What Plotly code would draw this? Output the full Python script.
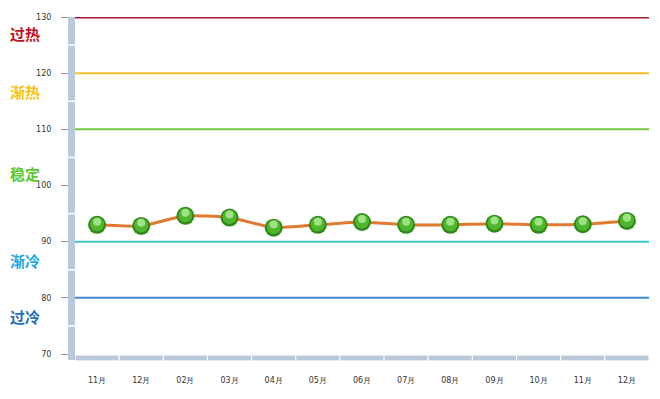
import plotly.graph_objects as go

months = ["11月", "12月", "02月", "03月", "04月", "05月", "06月", "07月", "08月", "09月", "10月", "11月", "12月"]
values = [93.0, 92.8, 94.6, 94.3, 92.5, 93.0, 93.5, 93.0, 93.0, 93.2, 93.0, 93.1, 93.7]

thresholds = [130, 120, 110, 90, 80]
threshold_colors = ["#a8182e", "#f2c230", "#72c840", "#3cc6c6", "#3f88cc"]

zone_labels = ["过热", "渐热", "稳定", "渐冷", "过冷"]
zone_label_y = [127.1, 116.8, 102.1, 86.6, 76.6]
zone_colors = ["#c0101e", "#f5c21a", "#5cc832", "#22a8e0", "#1f6eb8"]

yticks = [70, 80, 90, 100, 110, 120, 130]

W, H = 660, 399
L, R, T, B = 67, 19, 5, 53
pw = W - L - R
ph = H - T - B

x = list(range(len(months)))

fig = go.Figure()

fig.add_trace(go.Scatter(
    x=x, y=values, mode="lines",
    line=dict(color="#e07a30", width=3, shape="spline", smoothing=0.5),
    hoverinfo="skip", showlegend=False,
))
fig.add_trace(go.Scatter(
    x=x, y=values, mode="markers",
    marker=dict(size=18, color="#2f8a18", line=dict(width=0)),
    showlegend=False,
))
fig.add_trace(go.Scatter(
    x=x, y=[v + 0.1 for v in values], mode="markers",
    marker=dict(size=14, color="#4fb62e", line=dict(width=0)),
    hoverinfo="skip", showlegend=False,
))
fig.add_trace(go.Scatter(
    x=x, y=[v + 0.55 for v in values], mode="markers",
    marker=dict(size=8, color="rgba(200,250,180,0.65)", line=dict(width=0)),
    hoverinfo="skip", showlegend=False,
))

shapes = []
for v, c in zip(thresholds, threshold_colors):
    shapes.append(dict(type="line", xref="paper", yref="y", x0=0, x1=1, y0=v, y1=v,
                       line=dict(color=c, width=3 if v == 130 else 2), layer="below"))

bar_col = "#b9c9da"
yb0 = -7 / pw
shapes.append(dict(type="rect", xref="paper", yref="paper", x0=yb0, x1=0,
                   y0=-6 / ph, y1=1, fillcolor=bar_col, line=dict(width=0), layer="above"))
for v in [75, 85, 95, 105, 115, 125]:
    shapes.append(dict(type="line", xref="paper", yref="y", x0=yb0, x1=0, y0=v, y1=v,
                       line=dict(color="white", width=1.5), layer="above"))
for i in range(len(months)):
    shapes.append(dict(type="rect", xref="x", yref="paper",
                       x0=i - 0.5, x1=i + 0.5, y0=-7 / ph, y1=-1 / ph,
                       fillcolor=bar_col, line=dict(color="white", width=1), layer="above"))

annotations = []
for t, yv, c in zip(zone_labels, zone_label_y, zone_colors):
    annotations.append(dict(text=t, xref="paper", yref="y", x=-L / pw, y=yv,
                            xanchor="left", yanchor="middle", showarrow=False,
                            font=dict(family="Noto Sans CJK SC", size=15, color=c, weight="bold")))

fig.update_layout(
    width=W, height=H,
    margin=dict(l=L, r=R, t=T, b=B),
    paper_bgcolor="white", plot_bgcolor="white",
    shapes=shapes, annotations=annotations,
    showlegend=False,
    font=dict(family="DejaVu Sans", size=8, color="#333333"),
    xaxis=dict(
        range=[-0.5, len(months) - 0.5], tickmode="array", tickvals=x, ticktext=months,
        showgrid=False, zeroline=False, showline=False,
        ticks="", ticklabelstandoff=20, tickfont=dict(size=8, color="#333333"),
        fixedrange=True,
    ),
    yaxis=dict(
        range=[70, 130], tickmode="array", tickvals=yticks,
        showgrid=False, zeroline=False, showline=False,
        ticks="outside", ticklen=13, tickcolor="#999999", tickwidth=1,
        ticklabelstandoff=8, tickfont=dict(size=8, color="#333333"),
        fixedrange=True,
    ),
)

fig.write_html("out.html")
